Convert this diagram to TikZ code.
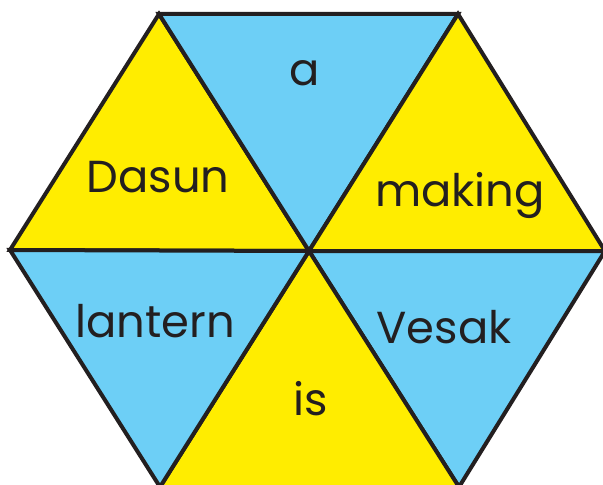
\documentclass[tikz,border=0pt]{standalone}
\usepackage{fontspec}
\setmainfont{Poppins}
\definecolor{hexyel}{RGB}{255,237,0}
\definecolor{hexblu}{RGB}{109,207,246}
\definecolor{inkdk}{RGB}{35,31,32}

\begin{document}
\begin{tikzpicture}[x=1bp, y=-1bp,
    word/.style={inkdk, anchor=base, inner sep=0pt, font=\fontsize{45}{48}\selectfont}]
        \useasboundingbox (0,0) rectangle (603,485);
        \coordinate (c) at (309,251);
        \coordinate (l) at (10,250);
        \coordinate (tl) at (159,14);
        \coordinate (tr) at (458,14);
        \coordinate (r) at (605,251);
        \coordinate (br) at (459,487);
        \coordinate (bl) at (160,487);
        % six triangles
        \draw[line width=4bp, inkdk, fill=hexyel] (c) -- (l) -- (tl) -- cycle;
        \draw[line width=4bp, inkdk, fill=hexblu] (c) -- (tl) -- (tr) -- cycle;
        \draw[line width=4bp, inkdk, fill=hexyel] (c) -- (tr) -- (r) -- cycle;
        \draw[line width=4bp, inkdk, fill=hexblu] (c) -- (r) -- (br) -- cycle;
        \draw[line width=4bp, inkdk, fill=hexyel] (c) -- (br) -- (bl) -- cycle;
        \draw[line width=4bp, inkdk, fill=hexblu] (c) -- (bl) -- (l) -- cycle;
        \node[word] (dasun) at (158,193) {Dasun};
        \node[word] (a) at (304.5,86) {a};
        \node[word] (making) at (460,207) {making};
        \node[word] (lantern) at (155,337) {lantern};
        \node[word] (vesak) at (444,343) {Vesak};
        \node[word] (is) at (311,415) {is};
      \end{tikzpicture}
\end{document}
